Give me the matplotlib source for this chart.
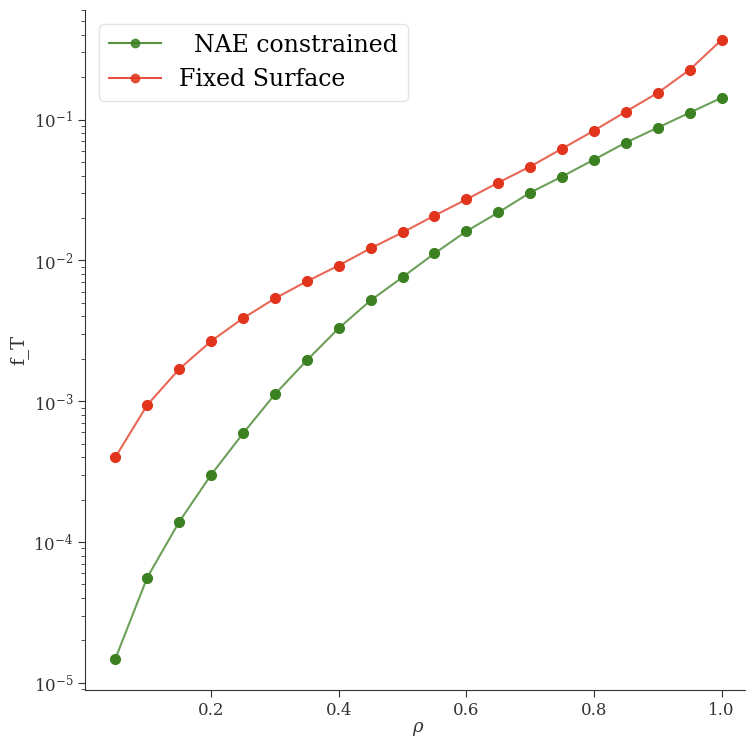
#!/usr/bin/env python3
"""Torque fraction f_T vs rho for NAE constrained and fixed surface runs."""

import matplotlib

matplotlib.use("Agg")
import matplotlib.pyplot as plt

rho = [0.05, 0.10, 0.15, 0.20, 0.25, 0.30, 0.35, 0.40, 0.45, 0.50,
       0.55, 0.60, 0.65, 0.70, 0.75, 0.80, 0.85, 0.90, 0.95, 1.00]
f_t_nae = [1.48e-5, 5.6e-5, 1.39e-4, 3.0e-4, 5.9e-4, 1.12e-3, 1.95e-3, 3.3e-3, 5.2e-3, 7.6e-3,
           0.0112, 0.0161, 0.0219, 0.0303, 0.0394, 0.052, 0.0687, 0.0877, 0.112, 0.143]
f_t_fixed = [4.0e-4, 9.4e-4, 1.69e-3, 2.67e-3, 3.88e-3, 5.37e-3, 7.1e-3, 9.2e-3, 0.0122, 0.0158,
             0.0208, 0.0271, 0.0357, 0.0464, 0.0622, 0.0835, 0.114, 0.155, 0.226, 0.369]
labels = ["  NAE constrained", "Fixed Surface"]

plt.rcParams["font.family"] = "DejaVu Serif"
plt.rcParams["mathtext.fontset"] = "dejavuserif"

GREEN = "#3b8021"
RED = "#e2341d"
INK = "#333333"

fig = plt.figure(figsize=(7.46, 7.38), dpi=100)
ax = fig.add_axes([85 / 746, 48 / 738, 667 / 746, 680 / 738])

for vals, color, label in ((f_t_nae, GREEN, labels[0]), (f_t_fixed, RED, labels[1])):
    ax.plot(rho, vals, color=color, alpha=0.75, lw=1.5)
    ax.plot(rho, vals, color=color, lw=0, marker="o", ms=7)
    # legend proxy: lighter line, smaller solid marker
    ax.plot([], [], color=color, lw=1.5, alpha=0.85, marker="o", ms=6, label=label)

ax.set_yscale("log")
ax.set_xlim(0.0025, 1.0475)
ax.set_ylim(8.9e-6, 0.6)
ax.set_xticks([0.2, 0.4, 0.6, 0.8, 1.0])
ax.set_xlabel(r"$\rho$", fontsize=13, color=INK, labelpad=1)
ax.set_ylabel("f_T", fontsize=14, color=INK)

for side in ("top", "right"):
    ax.spines[side].set_visible(False)
for side in ("left", "bottom"):
    ax.spines[side].set_color(INK)
ax.tick_params(axis="both", which="major", labelsize=12, colors=INK, length=5)
ax.tick_params(axis="y", which="minor", colors=INK, length=3)

leg = ax.legend(loc="upper left", fontsize=17, frameon=True, fancybox=True,
                borderaxespad=0.6, handlelength=2.2)
leg.get_frame().set_edgecolor("#dddddd")

fig.savefig("out.png", dpi=100)
